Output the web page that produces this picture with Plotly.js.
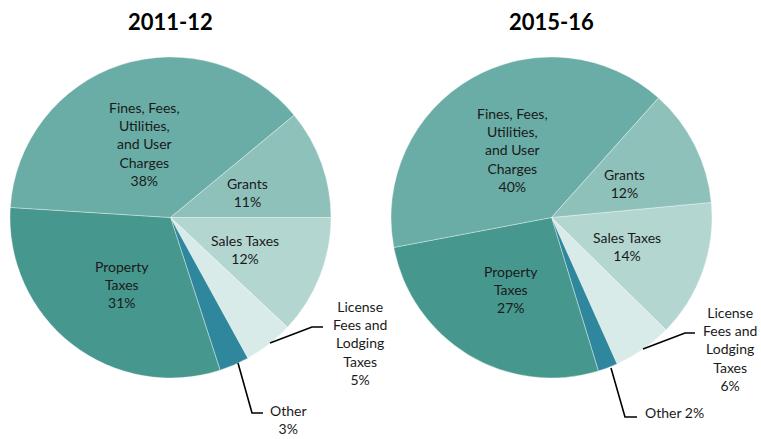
<!DOCTYPE html>
<html>
<head>
<meta charset="utf-8">
<script src="https://cdn.plot.ly/plotly-3.0.1.min.js"></script>
<style>html,body{margin:0;padding:0;background:#fff;}#chart{width:761px;height:439px;}</style>
</head>
<body>
<div id="chart"></div>
<script>
// ---- data ----
const categories = ["Sales Taxes", "License Fees and Lodging Taxes", "Other", "Property Taxes", "Fines, Fees, Utilities, and User Charges", "Grants"];
const labelLines = ["Sales Taxes", "License<br>Fees and<br>Lodging<br>Taxes", "Other", "Property<br>Taxes", "Fines, Fees,<br>Utilities,<br>and User<br>Charges", "Grants"];
const values2011 = [12, 5, 3, 31, 38, 11];
const values2015 = [14, 6, 2, 27, 40, 12];
const titles = ["2011-12", "2015-16"];
const colors = ["#b3d6d1", "#d9ebe8", "#2f879d", "#46978d", "#69ada6", "#8fc1bb"];

// ---- layout helpers ----
const W = 761, H = 439;
const px = x => x / W;
const py = y => 1 - y / H;
const FONT = "Lato, 'Open Sans', sans-serif";
const TXT = "#1a1a1a";

const pies = [
  {values: values2011, cx: 170.5, cy: 217.5, r: 160.5, rotation: 90, title: titles[0],
   labelPos: [[245, 249], [360, 343], [288, 419], [122, 284], [144, 144], [247, 192]],
   otherInline: false,
   leaders: [
     [[270, 343], [312, 327], [323, 327]],
     [[238, 363], [252, 413], [263, 413]]
   ]},
  {values: values2015, cx: 551.5, cy: 217.5, r: 160.5, rotation: 84.6, title: titles[1],
   labelPos: [[627, 246.5], [730, 349], [674, 412], [511, 289], [512, 150], [624, 183]],
   otherInline: true,
   leaders: [
     [[643, 349], [685, 333], [695, 333]],
     [[611, 368], [625, 417], [637, 417]]
   ]}
];

const data = [];
const annotations = [];
const shapes = [];

pies.forEach(p => {
  data.push({
    type: "pie",
    values: p.values,
    labels: categories,
    sort: false,
    direction: "clockwise",
    rotation: p.rotation,
    textinfo: "none",
    hoverinfo: "label+percent",
    marker: {colors: colors, line: {color: "rgba(255,255,255,0.6)", width: 0.6}},
    domain: {x: [px(p.cx - p.r), px(p.cx + p.r)], y: [py(p.cy + p.r), py(p.cy - p.r)]},
    showlegend: false
  });
  annotations.push({
    text: "<b>" + p.title + "</b>", x: px(p.cx), y: py(22), xref: "paper", yref: "paper",
    showarrow: false, xanchor: "center", yanchor: "middle",
    font: {family: FONT, size: 22, color: "#000"}
  });
  p.values.forEach((v, i) => {
    let txt;
    if (i === 2 && p.otherInline) txt = labelLines[i] + " " + v + "%";
    else txt = labelLines[i] + "<br>" + v + "%";
    annotations.push({
      text: txt, x: px(p.labelPos[i][0]), y: py(p.labelPos[i][1]), xref: "paper", yref: "paper",
      showarrow: false, xanchor: "center", yanchor: "middle", align: "center",
      font: {family: FONT, size: 14, color: TXT}
    });
  });
  p.leaders.forEach(pts => {
    const path = pts.map((q, k) => (k ? "L " : "M ") + px(q[0]) + " " + py(q[1])).join(" ");
    shapes.push({type: "path", xref: "paper", yref: "paper", path: path, line: {color: "#000", width: 1.6}});
  });
});

const layout = {
  width: W, height: H,
  margin: {l: 0, r: 0, t: 0, b: 0},
  paper_bgcolor: "#fff",
  annotations: annotations,
  shapes: shapes,
  showlegend: false
};

Plotly.newPlot("chart", data, layout, {displayModeBar: false, staticPlot: true});
</script>
</body>
</html>
